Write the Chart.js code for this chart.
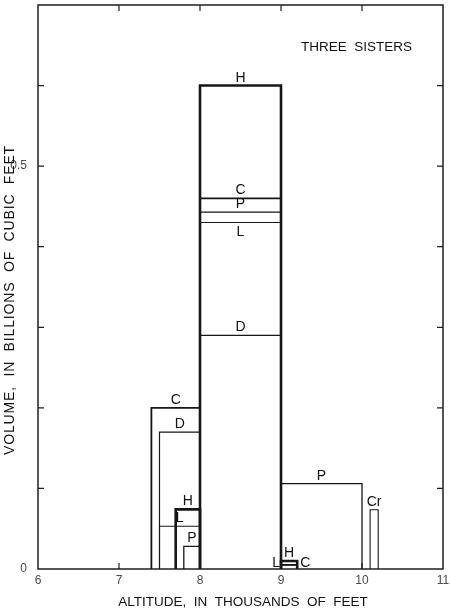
<!DOCTYPE html>
<html>
<head>
<meta charset="utf-8">
<script src="https://cdn.jsdelivr.net/npm/chart.js@4.4.1/dist/chart.umd.min.js"></script>
<style>
  body { margin: 0; background: #fff; }
  canvas { display: block; }
</style>
</head>
<body>
<canvas id="volumeChart" width="450" height="608"></canvas>
<script>
// Data: volume of each rock unit per 1000-ft altitude band (Three Sisters)
const rockUnit = ["H", "C", "P", "L", "D", "C", "D", "H", "L", "P", "P", "Cr", "H", "L", "C"];
const altFrom = [8, 8, 8, 8, 8, 7.4, 7.5, 7.7, 7.5, 7.8, 9, 10.1, 9, 9, 9];
const altTo = [9, 9, 9, 9, 9, 8, 8, 8, 8, 8, 10, 10.2, 9.2, 9.2, 9.2];
const volume = [0.6, 0.46, 0.443, 0.43, 0.29, 0.2, 0.17, 0.074, 0.053, 0.028, 0.106, 0.0735, 0.01, 0.005, 0.005];

const xTicks = [6, 7, 8, 9, 10, 11];
const yTickLabels = { 0: "0", 0.5: "0.5" };

// where each letter sits relative to its box (layout only)
const labelSide = ["above", "above", "above", "below", "above", "above", "above", "above", "above", "above", "above", "above", "above", "left", "right"];
// line weight per rock unit
const weight = { H: 2.6, C: 1.8, P: 1.3, L: 1.1, D: 1.2, Cr: 1.1 };

const datasets = rockUnit.map((r, i) => ({
  label: r,
  data: [
    { x: altFrom[i], y: 0 },
    { x: altFrom[i], y: volume[i] },
    { x: altTo[i], y: volume[i] },
    { x: altTo[i], y: 0 },
  ],
  showLine: true,
  borderColor: "#161616",
  borderWidth: weight[r],
  borderJoinStyle: "miter",
  pointRadius: 0,
  tension: 0,
  fill: false,
  order: r === "H" ? 0 : 1,
}));

// frame with inward ticks, like the original plot
const framePlugin = {
  id: "frame",
  afterDatasetsDraw(chart) {
    const { ctx, chartArea: a, scales } = chart;
    ctx.save();
    ctx.strokeStyle = "#1e1e1e";
    ctx.lineWidth = 1.5;
    ctx.strokeRect(a.left, a.top, a.right - a.left, a.bottom - a.top);
    ctx.lineWidth = 1.2;
    ctx.beginPath();
    [7, 8, 9, 10].forEach((v) => {
      const px = scales.x.getPixelForValue(v);
      ctx.moveTo(px, a.top); ctx.lineTo(px, a.top + 6);
      ctx.moveTo(px, a.bottom); ctx.lineTo(px, a.bottom - 6);
    });
    [0.1, 0.2, 0.3, 0.4, 0.5, 0.6].forEach((v) => {
      const py = scales.y.getPixelForValue(v);
      ctx.moveTo(a.left, py); ctx.lineTo(a.left + 6, py);
      ctx.moveTo(a.right, py); ctx.lineTo(a.right - 6, py);
    });
    ctx.stroke();
    ctx.restore();
  },
};

// letters over the boxes, titles and the caption
const textPlugin = {
  id: "texts",
  afterDraw(chart) {
    const { ctx, scales } = chart;
    ctx.save();
    ctx.fillStyle = "#111";
    ctx.font = "14px 'Liberation Sans', Arial, sans-serif";
    rockUnit.forEach((r, i) => {
      const top = scales.y.getPixelForValue(volume[i]);
      let cx = scales.x.getPixelForValue((altFrom[i] + altTo[i]) / 2);
      let cy = top - 9;
      ctx.textAlign = "center";
      if (labelSide[i] === "below") cy = top + 8.5;
      if (labelSide[i] === "left") {
        cx = scales.x.getPixelForValue(altFrom[i]) - 1;
        cy = top - 3;
        ctx.textAlign = "right";
      }
      if (labelSide[i] === "right") {
        cx = scales.x.getPixelForValue(altTo[i]) + 3;
        cy = top - 3;
        ctx.textAlign = "left";
      }
      ctx.fillText(r, cx, cy + 5);
    });

    ctx.font = "13.5px 'Liberation Sans', Arial, sans-serif";
    ctx.textAlign = "left";
    ctx.fillText("THREE  SISTERS", 301, 50.5);

    ctx.font = "13.5px 'Liberation Sans', Arial, sans-serif";
    ctx.textAlign = "center";
    ctx.fillText("ALTITUDE,  IN  THOUSANDS  OF  FEET", 243, 606);

    ctx.translate(13.5, 300);
    ctx.rotate(-Math.PI / 2);
    ctx.font = "14px 'Liberation Sans', Arial, sans-serif";
    ctx.letterSpacing = "0.85px";
    ctx.fillText("VOLUME,  IN  BILLIONS  OF  CUBIC  FEET", 0, 0);
    ctx.restore();
  },
};

new Chart(document.getElementById("volumeChart"), {
  type: "scatter",
  data: { datasets },
  options: {
    responsive: false,
    animation: false,
    devicePixelRatio: 1,
    layout: { padding: { top: 5, right: 7, left: 0, bottom: 0 } },
    plugins: { legend: { display: false }, tooltip: { enabled: false } },
    scales: {
      x: {
        type: "linear",
        min: 6,
        max: 11,
        afterBuildTicks: (s) => { s.ticks = xTicks.map((v) => ({ value: v })); },
        afterFit: (s) => { s.height = 39; s.paddingLeft = 0; s.paddingRight = 0; },
        grid: { display: false },
        border: { display: false },
        ticks: { color: "#4a4a4a", padding: -4, font: { size: 12, family: "'Liberation Sans', Arial" } },
      },
      y: {
        min: 0,
        max: 0.7,
        afterBuildTicks: (s) => { s.ticks = Object.keys(yTickLabels).map((v) => ({ value: +v })); },
        afterFit: (s) => { s.width = 38; s.paddingTop = 0; s.paddingBottom = 0; },
        grid: { display: false },
        border: { display: false },
        ticks: {
          color: "#4a4a4a",
          padding: 3,
          font: { size: 12, family: "'Liberation Sans', Arial" },
          callback: (v) => yTickLabels[v] || "",
        },
      },
    },
  },
  plugins: [framePlugin, textPlugin],
});
</script>
</body>
</html>
